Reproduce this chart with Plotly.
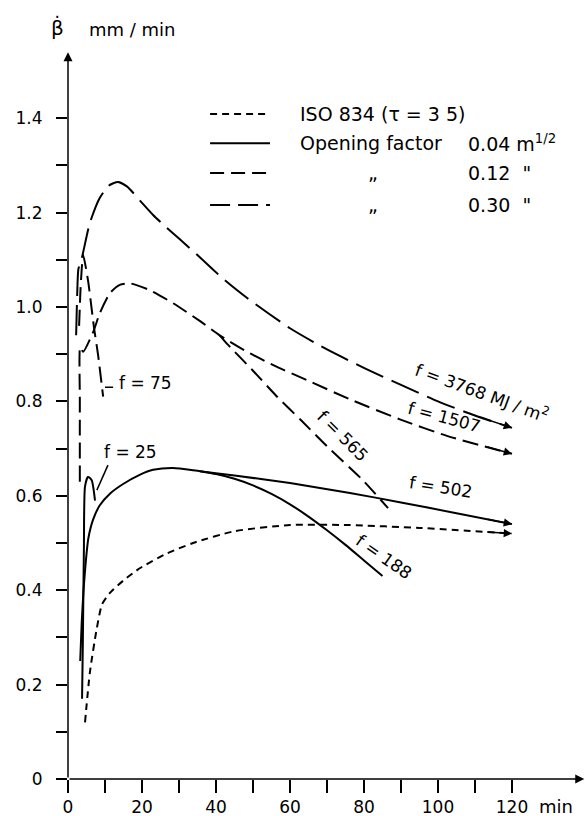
import numpy as np
import plotly.graph_objects as go

# Burning rate (mm/min) against time (min)

# ISO 834 standard fire (tau = 35)
iso_t = [4.6, 5.9, 7.8, 9.2, 11.4, 14.9, 19.5, 26.8, 33.8, 45, 60, 76, 95, 120]
iso_v = [0.12, 0.225, 0.32, 0.37, 0.395, 0.42, 0.447, 0.478, 0.50, 0.525, 0.538, 0.538, 0.532, 0.52]

# Opening factor 0.04 m^1/2
f25_t = [3.8, 4.0, 4.3, 4.6, 5.4, 6.4, 7.3]
f25_v = [0.17, 0.28, 0.49, 0.62, 0.64, 0.633, 0.59]

f502_t = [3.3, 3.7, 4.2, 4.8, 5.5, 6.8, 8.6, 11.4, 14.9, 19.5, 23, 28.4, 35.7, 45, 60, 76.2, 90, 105, 120]
f502_v = [0.25, 0.33, 0.40, 0.46, 0.51, 0.55, 0.58, 0.605, 0.625, 0.645, 0.655, 0.659, 0.652,
          0.643, 0.627, 0.606, 0.586, 0.563, 0.54]

f188_t = [35.7, 40, 45, 50, 55, 60, 65, 70, 75, 80, 85]
f188_v = [0.652, 0.646, 0.636, 0.622, 0.604, 0.582, 0.556, 0.527, 0.496, 0.463, 0.43]

# Opening factor 0.12 m^1/2
f75_t = [3.0, 3.4, 3.8, 4.1, 5.4, 7.0, 8.1, 9.5]
f75_v = [0.96, 1.04, 1.09, 1.11, 1.057, 0.958, 0.90, 0.81]

f1507_t = [3.2, 3.2, 3.3, 4.1, 6.8, 8.6, 11.4, 14, 16.8, 22, 28.4, 35.7, 41, 48.4, 56.5, 64.6, 76,
           89.7, 102.4, 120]
f1507_v = [0.63, 0.80, 0.915, 0.905, 0.947, 0.987, 1.03, 1.047, 1.05, 1.036, 1.008, 0.97, 0.94,
           0.905, 0.873, 0.845, 0.805, 0.762, 0.727, 0.689]

f565_t = [41, 43, 50, 56.5, 63, 70, 79.7, 86.5]
f565_v = [0.94, 0.922, 0.865, 0.81, 0.76, 0.705, 0.633, 0.574]

# Opening factor 0.30 m^1/2
f3768_t = [2.2, 2.5, 2.8, 3.8, 5.9, 8.5, 11, 13.5, 16, 19.5, 23, 26.7, 30.3, 35.7, 41.9, 48.6, 60,
           70, 80.8, 90, 100, 110, 120]
f3768_v = [0.94, 1.03, 1.08, 1.106, 1.178, 1.23, 1.257, 1.265, 1.255, 1.225, 1.195, 1.168, 1.143,
           1.105, 1.06, 1.018, 0.955, 0.91, 0.868, 0.835, 0.80, 0.77, 0.744]

# Axis ticks
x_ticks = list(range(0, 121, 10))
x_labels = [str(v) if v % 20 == 0 else "" for v in x_ticks]
y_ticks = [round(0.1 * i, 1) for i in range(15)]
y_labels = [("0" if v == 0 else f"{v:.1f}") if i % 2 == 0 else "" for i, v in enumerate(y_ticks)]

FONT = "DejaVu Sans"
INK = "black"
DASH_ISO = "7px,5px"
DASH_012 = "16px,7px"
DASH_030 = "30px,9px"

# Plot-area geometry (pixels) used to place texts that sit outside the axes
PLOT_L, PLOT_T, PLOT_W, PLOT_H = 68, 50, 517, 729


def paper_x(px):
    return (px - PLOT_L) / PLOT_W


def paper_y(py):
    return (PLOT_T + PLOT_H - py) / PLOT_H


fig = go.Figure()


def add_curve(t, v, dash, width=2):
    fig.add_trace(go.Scatter(
        x=t, y=v, mode="lines", showlegend=False, hoverinfo="skip",
        line=dict(color=INK, width=width, dash=dash, shape="spline", smoothing=0.6),
    ))


add_curve(iso_t, iso_v, DASH_ISO)
add_curve(f25_t, f25_v, "solid")
add_curve(f502_t, f502_v, "solid")
add_curve(f188_t, f188_v, "solid")
add_curve(f75_t, f75_v, DASH_012)
add_curve(f1507_t, f1507_v, DASH_012)
add_curve(f565_t, f565_v, DASH_012)
add_curve(f3768_t, f3768_v, DASH_030)

annotations = []


def end_arrow(t, v):
    # arrowhead on the last stretch of a curve that runs on past 120 min
    t0 = t[-1] - 7
    v0 = float(np.interp(t0, t, v))
    annotations.append(dict(
        x=t[-1], y=v[-1], ax=t0, ay=v0, xref="x", yref="y", axref="x", ayref="y",
        text="", showarrow=True, arrowhead=2, arrowsize=1.1, arrowwidth=1.5, arrowcolor=INK,
    ))


for t, v in [(iso_t, iso_v), (f502_t, f502_v), (f1507_t, f1507_v), (f3768_t, f3768_v)]:
    end_arrow(t, v)

# Axis lines with arrows
x_max = 139.73
y_max = 1.5445
annotations.append(dict(x=x_max - 0.2, y=0, ax=0, ay=0, xref="x", yref="y", axref="x", ayref="y",
                        text="", showarrow=True, arrowhead=2, arrowsize=1.2, arrowwidth=1.5,
                        arrowcolor=INK))
annotations.append(dict(x=0, y=y_max - 0.005, ax=0, ay=0, xref="x", yref="y", axref="x", ayref="y",
                        text="", showarrow=True, arrowhead=2, arrowsize=1.2, arrowwidth=1.5,
                        arrowcolor=INK))


def label(x, y, text, angle=0, size=17, xanchor="center"):
    annotations.append(dict(x=x, y=y, xref="x", yref="y", text=text, showarrow=False,
                            textangle=angle, xanchor=xanchor, yanchor="middle",
                            font=dict(family=FONT, size=size, color=INK)))


def paper_label(px, py, text, size=17):
    annotations.append(dict(x=paper_x(px), y=paper_y(py), xref="paper", yref="paper", text=text,
                            showarrow=False, xanchor="center", yanchor="middle",
                            font=dict(family=FONT, size=size, color=INK)))


# Axis titles
paper_label(57, 27, "β̇", size=20)
paper_label(132, 29, "mm / min", size=18)
paper_label(556, 806, "min", size=18)

# Curve labels
label(111.9, 0.82, "f = 3768 MJ / m<sup>2</sup>", angle=20)
label(101.6, 0.767, "f = 1507", angle=15)
label(74.3, 0.727, "f = 565", angle=45)
label(100.8, 0.619, "f = 502", angle=9)
label(85.4, 0.47, "f = 188", angle=35)
label(16.8, 0.693, "f = 25")
label(21.0, 0.839, "f = 75")

shapes = [
    dict(type="line", xref="x", yref="y", x0=7.8, y0=0.612, x1=10.8, y1=0.665,
         line=dict(color=INK, width=1.5)),
    dict(type="line", xref="x", yref="y", x0=10.0, y0=0.83, x1=12.2, y1=0.83,
         line=dict(color=INK, width=1.5)),
]

# Legend block
leg_x0, leg_x1 = 38.4, 54.6
leg_rows = [(1.409, DASH_ISO), (1.347, "solid"), (1.284, "14px,7px"), (1.216, "20px,8px")]
for y, dash in leg_rows:
    shapes.append(dict(type="line", xref="x", yref="y", x0=leg_x0, y0=y, x1=leg_x1, y1=y,
                       line=dict(color=INK, width=2, dash=dash)))

LEG = 19
label(62.2, 1.409, "ISO 834 (τ = 3 5)", size=LEG, xanchor="left")
label(62.2, 1.347, "Opening factor", size=LEG, xanchor="left")
label(107.5, 1.347, "0.04 m<sup>1/2</sup>", size=LEG, xanchor="left")
label(82.4, 1.284, "„", size=LEG)
label(82.4, 1.216, "„", size=LEG)
label(107.5, 1.284, "0.12  \"", size=LEG, xanchor="left")
label(107.5, 1.216, "0.30  \"", size=LEG, xanchor="left")

fig.update_layout(
    width=585, height=816,
    margin=dict(l=PLOT_L, r=585 - PLOT_L - PLOT_W, t=PLOT_T, b=816 - PLOT_T - PLOT_H),
    paper_bgcolor="white", plot_bgcolor="white",
    font=dict(family=FONT, size=17, color=INK),
    annotations=annotations, shapes=shapes,
    xaxis=dict(range=[0, x_max], showgrid=False, zeroline=False, showline=False,
               ticks="outside", ticklen=13, tickwidth=1.5, tickcolor=INK,
               tickvals=x_ticks, ticktext=x_labels, fixedrange=True),
    yaxis=dict(range=[0, y_max], showgrid=False, zeroline=False, showline=False,
               ticks="outside", ticklen=11, tickwidth=1.5, tickcolor=INK,
               tickvals=y_ticks, ticktext=y_labels, ticklabelstandoff=10, fixedrange=True),
)

fig.write_html("out.html")
